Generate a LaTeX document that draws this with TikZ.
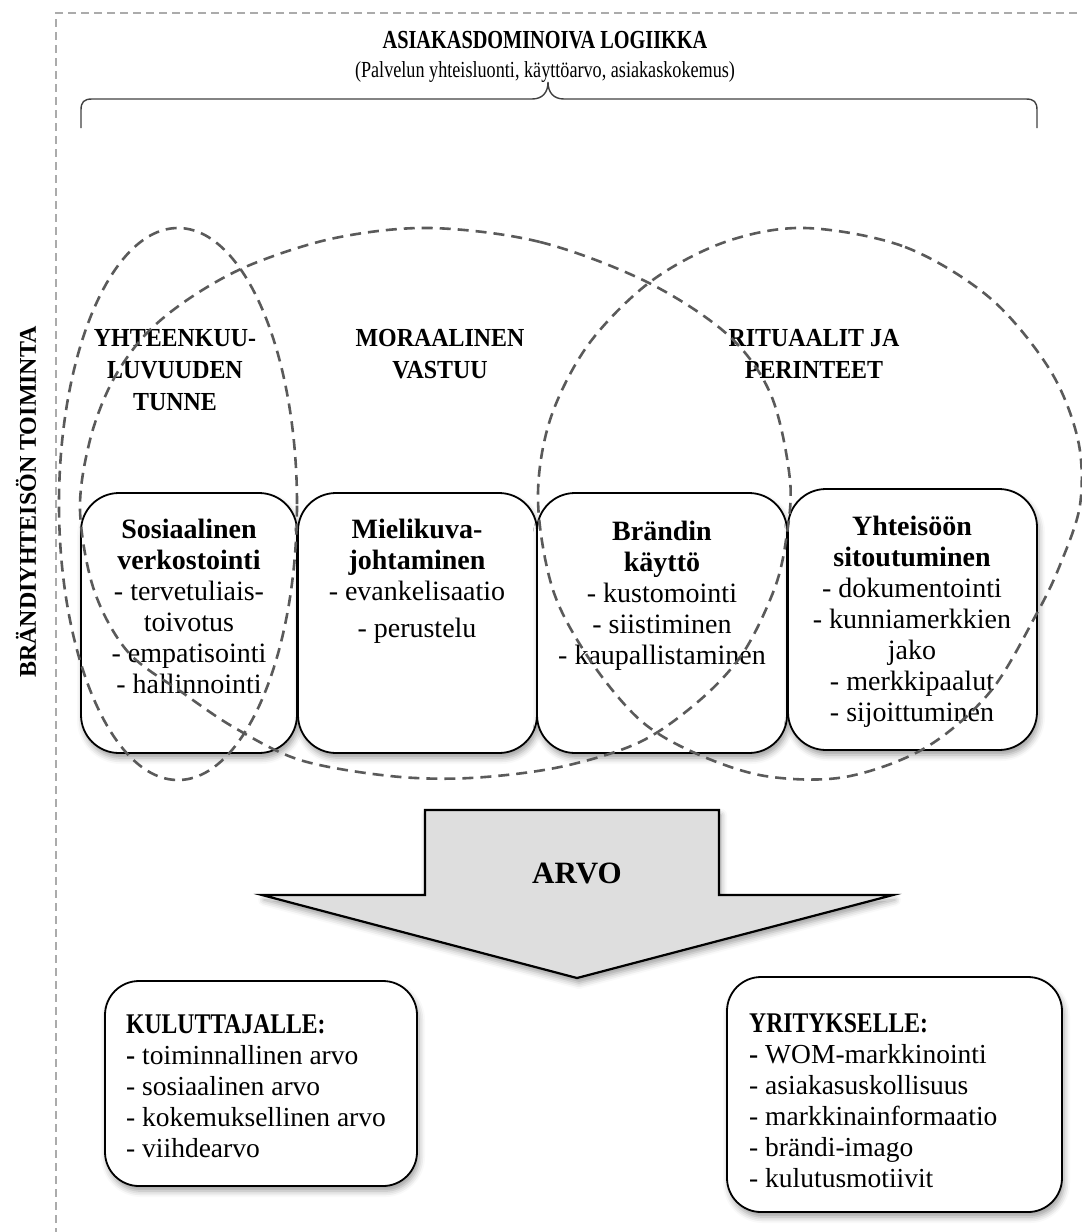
\documentclass[tikz,border=0pt]{standalone}
\usepackage{fontspec}
\setmainfont{Liberation Serif}
\usetikzlibrary{shadows.blur}

\definecolor{ovalgray}{HTML}{5A5A5A}
\definecolor{framegray}{HTML}{ABABAB}
\definecolor{bracegray}{HTML}{404040}
\definecolor{arrowfill}{HTML}{DEDEDE}

% font size helper, a strut that fixes the height of a first line,
% and a slightly condensed block for the bold capitals
\newcommand\fsz[2]{\fontsize{#1}{#2}\selectfont}
\newcommand\firstline{\rule{0pt}{20pt}}
\newcommand\capsblock[2]{\scalebox{#1}[1]{\begin{tabular}{@{}c@{}}#2\end{tabular}}}

\begin{document}
\begin{tikzpicture}[x=1pt,y=-1pt,
  frameline/.style={draw=framegray, line width=1.8pt, dash pattern=on 8pt off 5pt},
  oval/.style={draw=ovalgray, line width=2.6pt, dash pattern=on 11pt off 7pt},
  card/.style={draw=black, line width=1.8pt, fill=white, rounded corners=38pt,
    inner sep=0pt, outer sep=0pt, anchor=north west,
    blur shadow={shadow xshift=2pt, shadow yshift=-5pt, shadow blur radius=6pt, shadow opacity=38}},
  theme/.style={font=\bfseries\fsz{26}{32}, anchor=north, inner sep=0pt},
  cardtext/.style={font=\fsz{28}{31}, align=center, anchor=north, inner sep=0pt},
  listtext/.style={font=\fsz{27.5}{31}, align=left, anchor=north west, inner sep=0pt},
  bigarrow/.style={draw=black, line width=2.2pt, fill=arrowfill, line join=miter,
    blur shadow={shadow xshift=2pt, shadow yshift=-5pt, shadow blur radius=6pt, shadow opacity=38}},
  braceline/.style={draw=bracegray, line width=1.4pt}
]
\useasboundingbox (0,0) rectangle (1082,1232);
\clip (0,0) rectangle (1082,1232);

% outer dashed frame
\draw[frameline] (1090,13) -- (56,13) -- (56,1240);

% heading and its brace
\node[font=\bfseries\fsz{26}{30}, anchor=base, inner sep=0pt] (title) at (545,48)
  {\scalebox{0.78}[1]{ASIAKASDOMINOIVA LOGIIKKA}};
\node[font=\fsz{23}{30}, anchor=base, inner sep=0pt] (subtitle) at (545,77)
  {\scalebox{0.79}[1]{(Palvelun yhteisluonti, käyttöarvo, asiakaskokemus)}};
\draw[braceline] (81,128) -- (81,110) .. controls (81,102) and (84,99) .. (92,99)
  -- (532,99) .. controls (542,99) and (548,93) .. (548,82)
  .. controls (548,93) and (554,99) .. (564,99)
  -- (1026,99) .. controls (1034,99) and (1037,102) .. (1037,110) -- (1037,128);

% side label
\node[font=\bfseries\fsz{24}{28}, rotate=90, inner sep=0pt] (side) at (26,502)
  {BRÄNDIYHTEISÖN TOIMINTA};

% theme headings
\node[theme] (t1) at (175,323.6) {\capsblock{0.92}{YHTEENKUU-\\LUVUUDEN\\TUNNE}};
\node[theme] (t2) at (440,323.6) {\capsblock{0.92}{MORAALINEN\\VASTUU}};
\node[theme] (t3) at (814,323.6) {\capsblock{0.92}{RITUAALIT JA\\PERINTEET}};

% activity cards
\node[card, minimum width=216pt, minimum height=260pt] (b1) at (81,493) {};
\node[card, minimum width=239pt, minimum height=260pt] (b2) at (298,493) {};
\node[card, minimum width=250pt, minimum height=260pt] (b3) at (537,493) {};
\node[card, minimum width=249pt, minimum height=261pt] (b4) at (788,489) {};

\node[cardtext] (b1t) at (189,518)
  {\firstline\textbf{Sosiaalinen}\\\textbf{verkostointi}\\- tervetuliais-\\toivotus\\- empatisointi\\- hallinnointi};
\node[cardtext] (b2t) at (417,518)
  {\firstline\textbf{Mielikuva-}\\\textbf{johtaminen}\\- evankelisaatio\\[6pt]- perustelu};
\node[cardtext] (b3t) at (662,520)
  {\firstline\textbf{Brändin}\\\textbf{käyttö}\\- kustomointi\\- siistiminen\\- kaupallistaminen};
\node[cardtext] (b4t) at (912,515)
  {\firstline\textbf{Yhteisöön}\\\textbf{sitoutuminen}\\- dokumentointi\\- kunniamerkkien\\jako\\- merkkipaalut\\- sijoittuminen};

% overlapping dashed ovals
\draw[oval] (178,504) ellipse [x radius=119pt, y radius=276pt];
\draw[oval] plot[smooth cycle, tension=0.55] coordinates {
  (430,228) (540,242) (647,282) (728,335) (771,395) (790,480) (786,540)
  (774,590) (743,653) (700,700) (640,742) (560,767) (470,778) (390,776)
  (300,760) (235,728) (183,693) (128,652) (94,590) (80,510) (90,440)
  (112,382) (145,335) (190,298) (250,265) (335,238)};
\draw[oval] plot[smooth cycle, tension=0.55] coordinates {
  (805,228) (905,247) (990,298) (1050,370) (1078,440) (1080,505)
  (1060,565) (1037,613) (990,692) (925,748) (845,777) (765,776)
  (695,753) (640,720) (590,660) (553,590) (538,500) (550,420)
  (588,345) (650,282) (725,242)};

% value arrow
\draw[bigarrow] (425,810) -- (719,810) -- (719,895) -- (893,895) -- (577,978)
  -- (262,895) -- (425,895) -- cycle;
\node[font=\bfseries\fsz{31}{36}, anchor=base, inner sep=0pt] (arvo) at (577,883) {ARVO};

% value recipients
\node[card, rounded corners=34pt, minimum width=312pt, minimum height=205pt] (cons) at (105,981) {};
\node[card, rounded corners=34pt, minimum width=335pt, minimum height=235pt] (firm) at (727,977) {};

\node[listtext] (const) at (126,1013)
  {\firstline\textbf{\scalebox{0.83}[1]{\fsz{28.5}{31}KULUTTAJALLE:}}\\\textbf{-} toiminnallinen arvo\\- sosiaalinen arvo\\- kokemuksellinen arvo\\- viihdearvo};
\node[listtext] (firmt) at (749,1012)
  {\firstline\textbf{\scalebox{0.83}[1]{\fsz{28.5}{31}YRITYKSELLE:}}\\\textbf{-} WOM-markkinointi\\- asiakasuskollisuus\\- markkinainformaatio\\- brändi-imago\\- kulutusmotiivit};
\end{tikzpicture}
\end{document}
